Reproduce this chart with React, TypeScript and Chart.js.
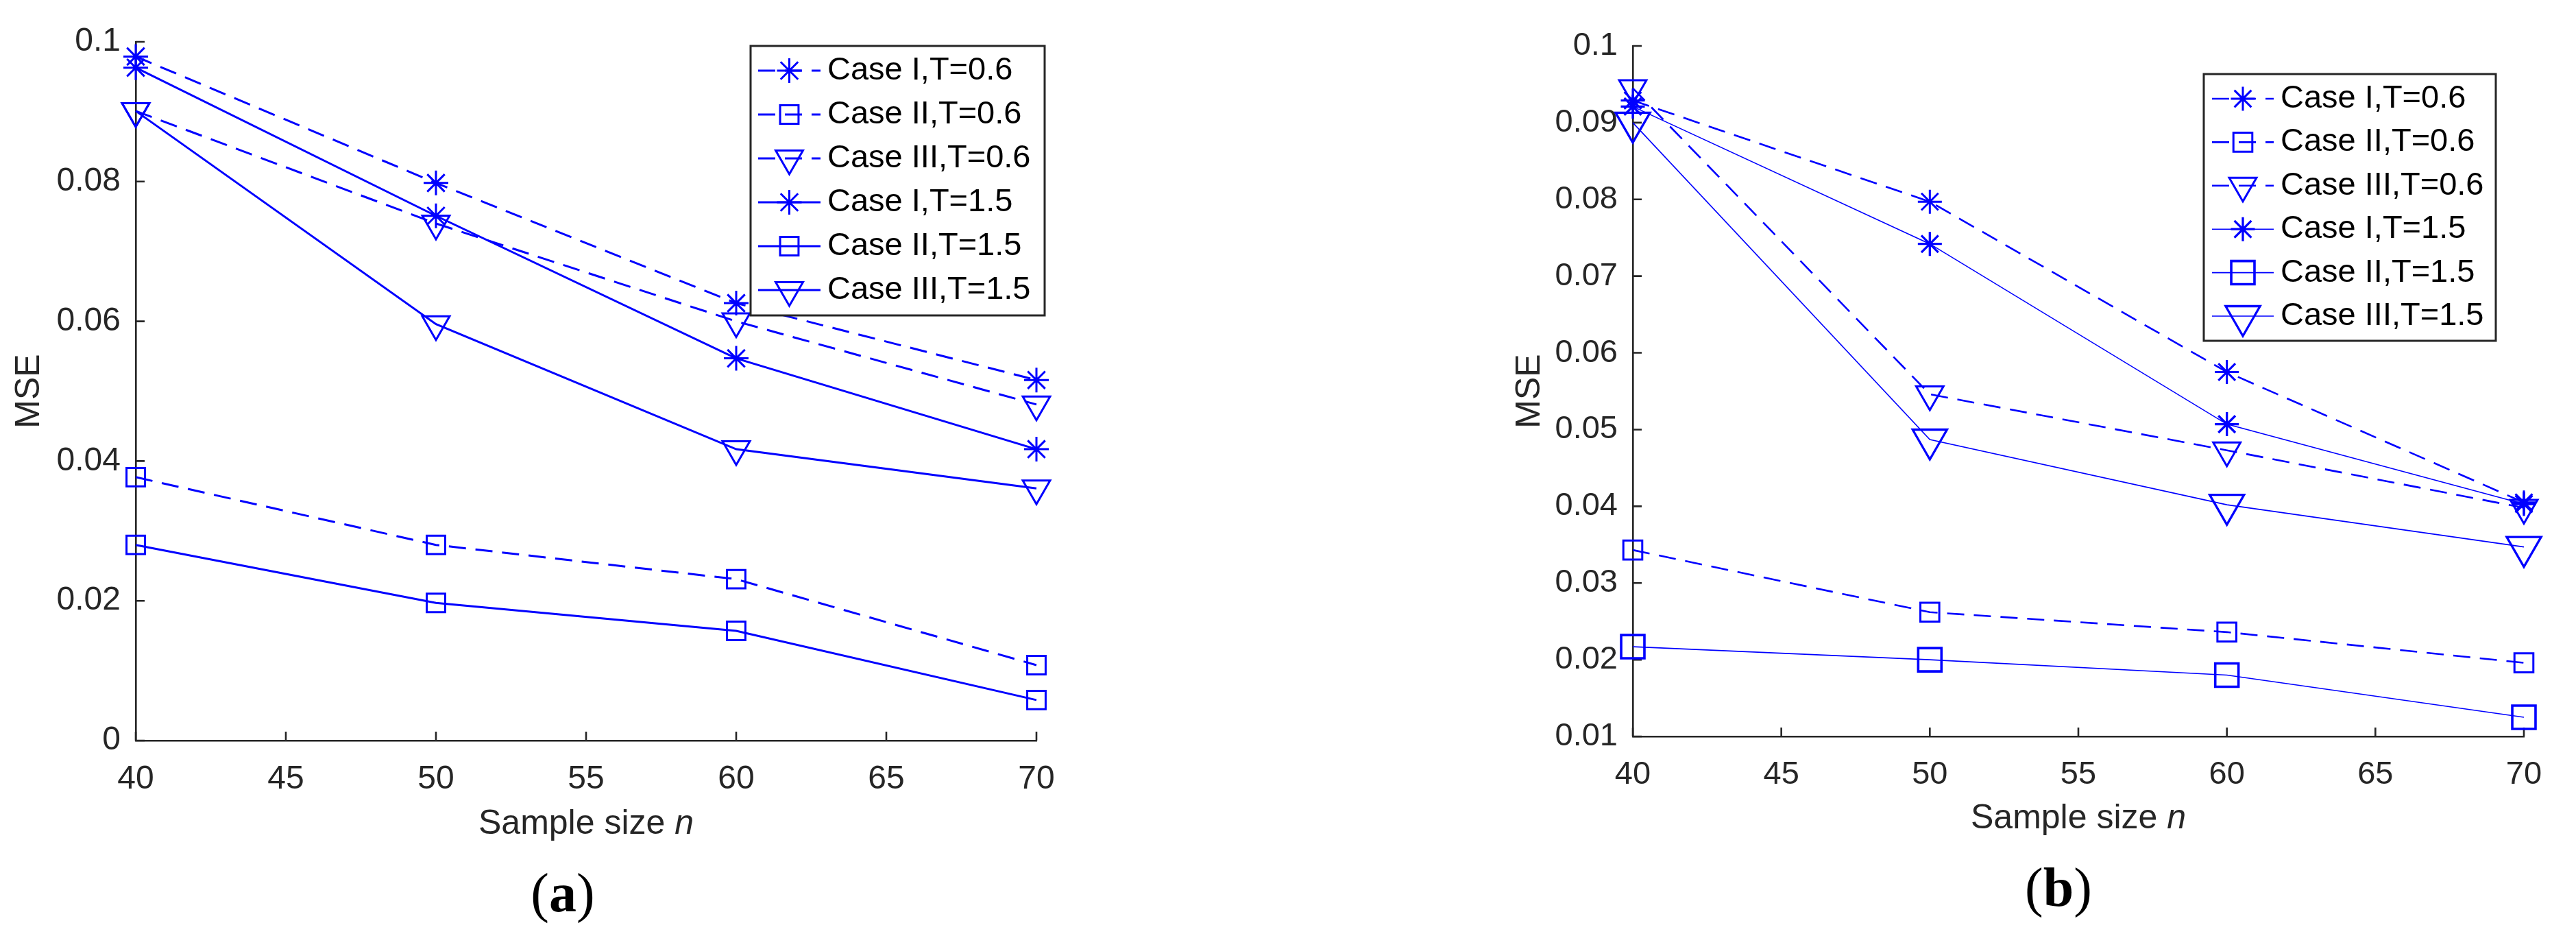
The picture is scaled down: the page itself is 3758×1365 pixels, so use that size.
import { useEffect, useRef } from "react";
import { Chart, registerables } from "chart.js";
import { drawPoint } from "chart.js/helpers";

Chart.register(...registerables);

// ---- data ----
const sampleSizes = [40, 50, 60, 70];
const seriesLabels = [
  "Case I,T=0.6",
  "Case II,T=0.6",
  "Case III,T=0.6",
  "Case I,T=1.5",
  "Case II,T=1.5",
  "Case III,T=1.5",
];

// panel (a)
const aCase1T06 = [0.0979, 0.0798, 0.0626, 0.0516];
const aCase2T06 = [0.0377, 0.028, 0.0231, 0.0108];
const aCase3T06 = [0.0901, 0.074, 0.06, 0.0481];
const aCase1T15 = [0.0963, 0.0751, 0.0547, 0.0417];
const aCase2T15 = [0.028, 0.0197, 0.0157, 0.0058];
const aCase3T15 = [0.0901, 0.0596, 0.0417, 0.0361];

// panel (b)
const bCase1T06 = [0.0929, 0.0797, 0.0575, 0.0405];
const bCase2T06 = [0.0343, 0.0262, 0.0236, 0.0196];
const bCase3T06 = [0.0945, 0.0546, 0.0473, 0.0398];
const bCase1T15 = [0.0921, 0.0742, 0.0507, 0.0403];
const bCase2T15 = [0.0217, 0.02, 0.018, 0.0125];
const bCase3T15 = [0.09, 0.0487, 0.0402, 0.0347];

const xTicks = [40, 45, 50, 55, 60, 65, 70];
const yTicksA = [0, 0.02, 0.04, 0.06, 0.08, 0.1];
const yTickLabelsA = ["0", "0.02", "0.04", "0.06", "0.08", "0.1"];
const yTicksB = [0.01, 0.02, 0.03, 0.04, 0.05, 0.06, 0.07, 0.08, 0.09, 0.1];
const yTickLabelsB = ["0.01", "0.02", "0.03", "0.04", "0.05", "0.06", "0.07", "0.08", "0.09", "0.1"];

const BLUE = "#0000ff";
const AXIS = "#262626";
const SANS = '"Liberation Sans", Arial, Helvetica, sans-serif';
const SERIF = '"Liberation Serif", "Times New Roman", serif';

// inward ticks + axis titles
const axisDecor = {
  id: "axisDecor",
  beforeDatasetsDraw(chart: any, _args: any, o: any) {
    const { ctx, chartArea } = chart;
    const xs = chart.scales.x;
    const ys = chart.scales.y;
    ctx.save();
    ctx.strokeStyle = AXIS;
    ctx.lineWidth = o.tickWidth;
    ctx.beginPath();
    xs.ticks.forEach((t: any) => {
      const px = xs.getPixelForValue(t.value);
      ctx.moveTo(px, chartArea.bottom);
      ctx.lineTo(px, chartArea.bottom - o.tickLen);
    });
    ys.ticks.forEach((t: any) => {
      const py = ys.getPixelForValue(t.value);
      ctx.moveTo(chartArea.left, py);
      ctx.lineTo(chartArea.left + o.tickLen, py);
    });
    ctx.stroke();

    ctx.fillStyle = AXIS;
    ctx.textBaseline = "middle";
    ctx.textAlign = "left";
    const main = "Sample size ";
    const ital = "n";
    ctx.font = `${o.titleSize}px ${SANS}`;
    const w1 = ctx.measureText(main).width;
    ctx.font = `italic ${o.titleSize}px ${SANS}`;
    const w2 = ctx.measureText(ital).width;
    const cx = (chartArea.left + chartArea.right) / 2;
    const x0 = cx - (w1 + w2) / 2;
    ctx.font = `${o.titleSize}px ${SANS}`;
    ctx.fillText(main, x0, o.xTitleY);
    ctx.font = `italic ${o.titleSize}px ${SANS}`;
    ctx.fillText(ital, x0 + w1, o.xTitleY);

    ctx.translate(o.yTitleX, (chartArea.top + chartArea.bottom) / 2);
    ctx.rotate(-Math.PI / 2);
    ctx.textAlign = "center";
    ctx.font = `${o.titleSize}px ${SANS}`;
    ctx.fillText("MSE", 0, 0);
    ctx.restore();
  },
};

// MATLAB style legend box
const legendBox = {
  id: "legendBox",
  afterDatasetsDraw(chart: any, _args: any, o: any) {
    const ctx = chart.ctx;
    ctx.save();
    ctx.fillStyle = "#ffffff";
    ctx.fillRect(o.x, o.y, o.w, o.h);
    ctx.strokeStyle = AXIS;
    ctx.lineWidth = o.border;
    ctx.strokeRect(o.x, o.y, o.w, o.h);
    chart.data.datasets.forEach((ds: any, i: number) => {
      const y = o.row0 + i * o.rowGap;
      ctx.setLineDash(ds.borderDash || []);
      ctx.lineDashOffset = 0;
      ctx.strokeStyle = ds.borderColor;
      ctx.lineWidth = ds.borderWidth;
      ctx.beginPath();
      ctx.moveTo(o.line0, y);
      ctx.lineTo(o.line1, y);
      ctx.stroke();
      ctx.setLineDash([]);
      ctx.strokeStyle = ds.pointBorderColor;
      ctx.fillStyle = "rgba(0,0,0,0)";
      ctx.lineWidth = ds.pointBorderWidth;
      drawPoint(
        ctx,
        {
          pointStyle: ds.pointStyle,
          rotation: ds.pointRotation || 0,
          radius: ds.pointRadius,
          borderWidth: ds.pointBorderWidth,
        } as any,
        (o.line0 + o.line1) / 2,
        y
      );
      ctx.fillStyle = "#000000";
      ctx.font = `${o.fontSize}px ${SANS}`;
      ctx.textBaseline = "middle";
      ctx.textAlign = "left";
      ctx.fillText(ds.label, o.textX, y);
    });
    ctx.restore();
  },
};

const makeSet = (
  label: string,
  values: number[],
  dashed: boolean,
  style: string,
  radius: number,
  lineW: number,
  pointW: number
) => ({
  label,
  data: sampleSizes.map((n, i) => ({ x: n, y: values[i] })),
  borderColor: BLUE,
  borderWidth: lineW,
  borderDash: dashed ? [25, 14] : [],
  pointStyle: style,
  pointRotation: style === "triangle" ? 180 : 0,
  pointRadius: radius,
  pointBorderColor: BLUE,
  pointBackgroundColor: "rgba(0,0,0,0)",
  pointBorderWidth: pointW,
  tension: 0,
  fill: false,
  clip: false as any,
});

interface PanelProps {
  left: number;
  width: number;
  height: number;
  top: number;
  yAxisW: number;
  xAxisH: number;
  right: number;
  yMin: number;
  yMax: number;
  yTicks: number[];
  yLabels: string[];
  tickSize: number;
  datasets: any[];
  decor: any;
  legend: any;
}

const MsePanel = (p: PanelProps) => {
  const canvasRef = useRef<HTMLCanvasElement>(null);

  useEffect(() => {
    if (!canvasRef.current) return;
    const chart = new Chart(canvasRef.current, {
      type: "line",
      data: { datasets: p.datasets },
      options: {
        responsive: false,
        animation: false,
        devicePixelRatio: 1,
        events: [],
        layout: { padding: { top: p.top, right: p.right, left: 0, bottom: 0 } },
        plugins: {
          legend: { display: false },
          tooltip: { enabled: false },
          axisDecor: p.decor,
          legendBox: p.legend,
        } as any,
        scales: {
          x: {
            type: "linear",
            min: 40,
            max: 70,
            afterBuildTicks: (s: any) => {
              s.ticks = xTicks.map((v) => ({ value: v }));
            },
            afterFit: (s: any) => {
              s.height = p.xAxisH;
              s.paddingLeft = 0;
              s.paddingRight = 0;
            },
            grid: { display: false, drawTicks: false },
            border: { display: true, color: AXIS, width: 2.6 },
            ticks: {
              autoSkip: false,
              maxRotation: 0,
              padding: 28,
              color: AXIS,
              font: { family: SANS, size: p.tickSize },
              callback: (v: any) => String(v),
            },
          },
          y: {
            type: "linear",
            min: p.yMin,
            max: p.yMax,
            afterBuildTicks: (s: any) => {
              s.ticks = p.yTicks.map((v) => ({ value: v }));
            },
            afterFit: (s: any) => {
              s.width = p.yAxisW;
              s.paddingTop = 0;
              s.paddingBottom = 0;
            },
            grid: { display: false, drawTicks: false },
            border: { display: true, color: AXIS, width: 2.6 },
            ticks: {
              autoSkip: false,
              padding: 22,
              color: AXIS,
              font: { family: SANS, size: p.tickSize },
              callback: (v: any) => {
                const i = p.yTicks.findIndex((t) => Math.abs(t - Number(v)) < 1e-9);
                return i >= 0 ? p.yLabels[i] : "";
              },
            },
          },
        },
      },
      plugins: [axisDecor, legendBox],
    });
    return () => chart.destroy();
  }, []);

  return (
    <canvas
      ref={canvasRef}
      width={p.width}
      height={p.height}
      style={{ position: "absolute", left: p.left, top: 0, width: p.width, height: p.height }}
    />
  );
};

const Caption = ({ x, y, letter }: { x: number; y: number; letter: string }) => (
  <div
    style={{
      position: "absolute",
      left: x,
      top: y,
      transform: "translate(-50%, -50%)",
      fontFamily: SERIF,
      fontSize: 80,
      lineHeight: 1,
      color: "#000",
      whiteSpace: "nowrap",
    }}
  >
    (<b>{letter}</b>)
  </div>
);

const App = () => {
  const setsA = [
    makeSet(seriesLabels[0], aCase1T06, true, "star", 18, 3, 3),
    makeSet(seriesLabels[1], aCase2T06, true, "rect", 19, 3, 3),
    makeSet(seriesLabels[2], aCase3T06, true, "triangle", 23, 3, 3),
    makeSet(seriesLabels[3], aCase1T15, false, "star", 18, 3, 3),
    makeSet(seriesLabels[4], aCase2T15, false, "rect", 19, 3, 3),
    makeSet(seriesLabels[5], aCase3T15, false, "triangle", 23, 3, 3),
  ];
  const setsB = [
    makeSet(seriesLabels[0], bCase1T06, true, "star", 17.5, 2.6, 3),
    makeSet(seriesLabels[1], bCase2T06, true, "rect", 19.5, 2.6, 3),
    makeSet(seriesLabels[2], bCase3T06, true, "triangle", 23, 2.6, 3),
    makeSet(seriesLabels[3], bCase1T15, false, "star", 17.5, 1.6, 3.3),
    makeSet(seriesLabels[4], bCase2T15, false, "rect", 24, 1.6, 3.6),
    makeSet(seriesLabels[5], bCase3T15, false, "triangle", 29, 1.6, 3.3),
  ];

  return (
    <div style={{ position: "absolute", left: 0, top: 0, width: 3758, height: 1365, background: "#fff", overflow: "hidden" }}>
      <MsePanel
        left={0}
        width={1700}
        height={1260}
        top={61}
        yAxisW={198}
        xAxisH={180}
        right={188}
        yMin={0}
        yMax={0.1}
        yTicks={yTicksA}
        yLabels={yTickLabelsA}
        tickSize={48}
        datasets={setsA}
        decor={{ tickLen: 13, tickWidth: 2.6, titleSize: 50, xTitleY: 1202, yTitleX: 43 }}
        legend={{ x: 1095, y: 67, w: 429, h: 393, border: 3, row0: 103, rowGap: 64, line0: 1106, line1: 1197, textX: 1207, fontSize: 47 }}
      />
      <MsePanel
        left={2000}
        width={1758}
        height={1260}
        top={67}
        yAxisW={382}
        xAxisH={186}
        right={76}
        yMin={0.01}
        yMax={0.1}
        yTicks={yTicksB}
        yLabels={yTickLabelsB}
        tickSize={47}
        datasets={setsB}
        decor={{ tickLen: 13, tickWidth: 2.6, titleSize: 50, xTitleY: 1194, yTitleX: 232 }}
        legend={{ x: 1215, y: 108, w: 426, h: 389, border: 3, row0: 144, rowGap: 63.4, line0: 1227, line1: 1317, textX: 1327, fontSize: 47 }}
      />
      <Caption x={821} y={1302} letter="a" />
      <Caption x={3003} y={1294} letter="b" />
    </div>
  );
};

export default App;
